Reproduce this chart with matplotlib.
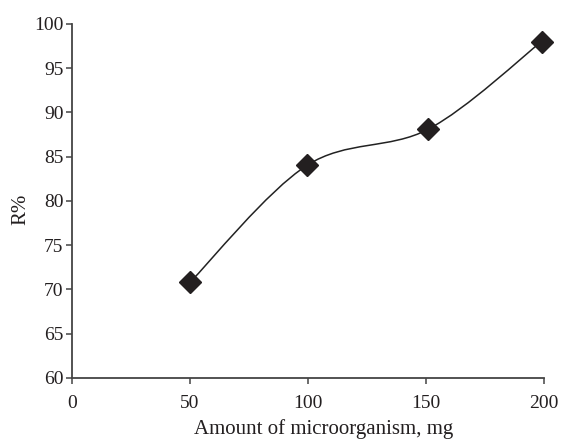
import matplotlib
matplotlib.use("Agg")
import matplotlib.pyplot as plt
import numpy as np
from matplotlib.path import Path
from matplotlib.patches import PathPatch

amount = [50, 99.5, 151, 199]
removal = [70.8, 84.0, 88.1, 98.0]
xticks = [0, 50, 100, 150, 200]
yticks = [60, 65, 70, 75, 80, 85, 90, 95, 100]

plt.rcParams['font.family'] = ['Liberation Serif', 'DejaVu Serif']
fig = plt.figure(figsize=(5.62, 4.41), dpi=100)
ax = fig.add_axes([0.128, 0.143, 0.84, 0.803])

# Excel-style smoothed line (Catmull-Rom Bezier)
P = np.column_stack([amount, removal]).astype(float)
n = len(P)
verts = [tuple(P[0])]
codes = [Path.MOVETO]
for i in range(n - 1):
    p0 = P[i - 1] if i > 0 else P[i]
    p1 = P[i]
    p2 = P[i + 1]
    p3 = P[i + 2] if i + 2 < n else P[i + 1]
    c1 = p1 + (p2 - p0) / 6.0
    c2 = p2 - (p3 - p1) / 6.0
    verts += [tuple(c1), tuple(c2), tuple(p2)]
    codes += [Path.CURVE4] * 3
ax.add_patch(PathPatch(Path(verts, codes), facecolor='none', edgecolor='#222222', lw=1.1))
ax.plot(amount, removal, linestyle='none', marker='D', markersize=11.5, color='#231f20',
        clip_on=False)

ax.set_xlim(0, 200)
ax.set_ylim(60, 100)
ax.set_xticks(xticks)
ax.set_yticks(yticks)
for s in ['top', 'right']:
    ax.spines[s].set_visible(False)
for s in ['left', 'bottom']:
    ax.spines[s].set_color('#444444')
    ax.spines[s].set_linewidth(1.3)
ax.tick_params(axis='both', direction='out', length=4, width=1.1, color='#444444',
               labelsize=14, labelcolor='#231f20', pad=2)
ax.tick_params(axis='x', pad=8)
ax.set_xlabel('Amount of microorganism, mg', fontsize=15, color='#231f20')
ax.set_ylabel('R%', fontsize=15, color='#231f20')
ax.xaxis.set_label_coords(0.534, -0.116)
ax.yaxis.set_label_coords(-0.108, 0.475)
ax.yaxis.label.set_verticalalignment('center')

fig.savefig('out.png', dpi=100)
